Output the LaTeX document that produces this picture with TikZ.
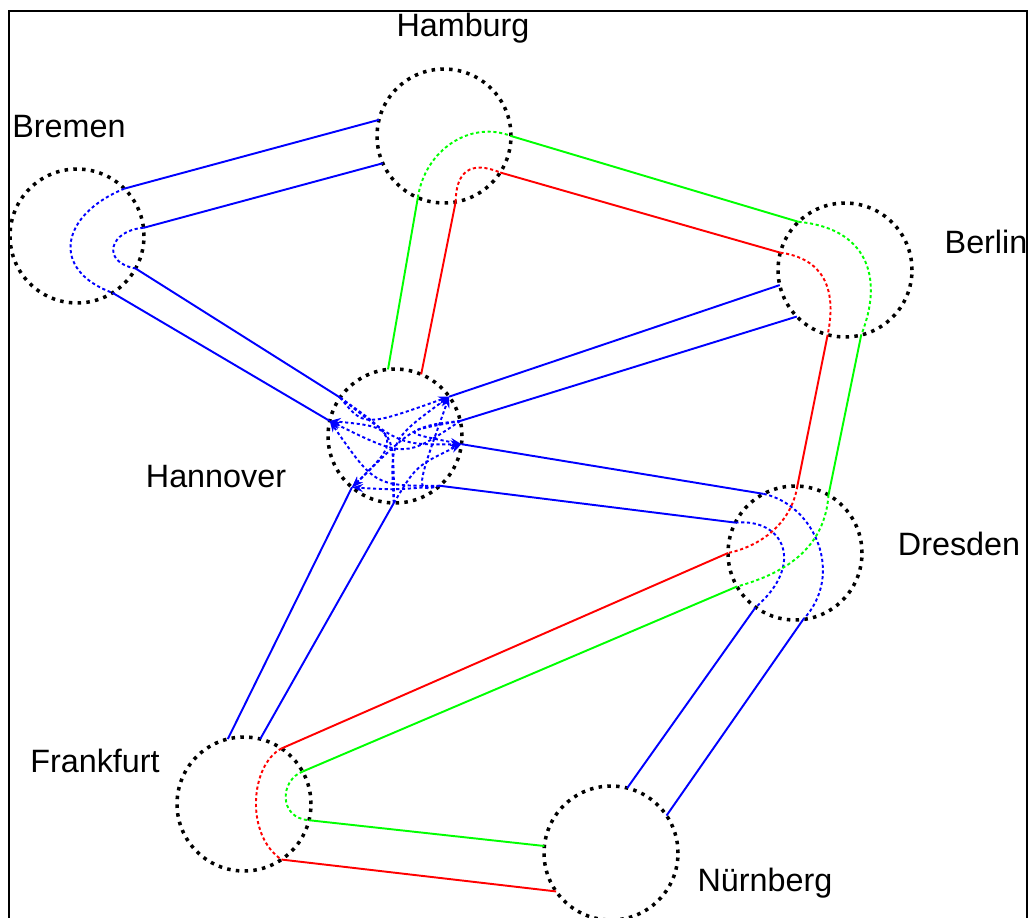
\documentclass[tikz,border=0pt]{standalone}
\usepackage{fontspec}
\setmainfont{Liberation Sans}
\usetikzlibrary{arrows.meta}

\begin{document}
\begin{tikzpicture}[
    x=0.02cm, y=-0.02cm,
    text=black,
    >={Stealth[length=2.2mm, width=1.6mm]},
    city/.style={circle, draw=black, line width=2pt, dash pattern=on 2pt off 3pt,
                 minimum size=2.68cm, inner sep=0pt, outer sep=0pt},
    citylabel/.style={anchor=base, font=\fontsize{18.4}{22}\selectfont},
    lane/.style={line width=1.1pt},
    route/.style={line width=1.1pt, dash pattern=on 1.8pt off 1.5pt},
    hop/.style={route, ->}
]

% Colours of the three flows
\definecolor{flowblue}{RGB}{0,0,255}
\definecolor{flowred}{RGB}{255,0,0}
\definecolor{flowgreen}{RGB}{0,255,0}

\useasboundingbox (0,0) rectangle (1033,917);
\fill[white] (0,0) rectangle (1033,917);
\clip (0,0) rectangle (1033,917);

% Frame
\draw[line width=1.2pt] (9,11) rectangle (1027,940);

% ==================== CITIES ====================
\node[city] (hamburg)   at (444,136) {};
\node[city] (bremen)    at (77,236)  {};
\node[city] (berlin)    at (845,270) {};
\node[city] (hannover)  at (395,436) {};
\node[city] (dresden)   at (795,553) {};
\node[city] (frankfurt) at (244,804) {};
\node[city] (nuernberg) at (611,853) {};

% Labels
\node[citylabel] (hamburg-label)   at (463,36)  {Hamburg};
\node[citylabel] (bremen-label)    at (69,137)  {Bremen};
\node[citylabel] (berlin-label)    at (986,253) {Berlin};
\node[citylabel] (hannover-label)  at (216,487) {Hannover};
\node[citylabel] (dresden-label)   at (959,555) {Dresden};
\node[citylabel] (frankfurt-label) at (95,772)  {Frankfurt};
\node[citylabel] (nuernberg-label) at (765,891) {Nürnberg};

% ==================== BLUE LINKS ====================
\begin{scope}[flowblue]
    \draw[lane] (bremen.45.6)    -- (hamburg.166.8);
    \draw[lane] (bremen.7.8)     -- (hamburg.-156.2);
    \draw[lane] (bremen.-29.3)   -- (hannover.145.6);
    \draw[lane] (bremen.-58.5)   -- (hannover.167.8);
    \draw[lane] (berlin.193.4)   -- (hannover.36.9);
    \draw[lane] (berlin.224.4)   -- (hannover.13.2);
    \draw[lane] (hannover.-7.6)  -- (dresden.118.9);
    \draw[lane] (hannover.-48)   -- (dresden.153.1);
    \draw[lane] (hannover.-130)  -- (frankfurt.104.2);
    \draw[lane] (hannover.-91.7) -- (frankfurt.76.6);
    \draw[lane] (dresden.234.5)  -- (nuernberg.76.4);
    \draw[lane] (dresden.277)    -- (nuernberg.34.8);

    % turns inside Bremen
    \draw[route] (bremen.45.6) .. controls (60,215) and (50,270) .. (bremen.-58.5);
    \draw[route] (bremen.7.8) .. controls (110,230) and (100,262) .. (bremen.-29.3);

    % turns inside Dresden
    \draw[route] (dresden.118.9) .. controls (815,505) and (845,575) .. (dresden.277);
    \draw[route] (dresden.153.1) .. controls (785,518) and (805,565) .. (dresden.234.5);

    % switching inside Hannover
    \draw[hop] (hannover.145.6) .. controls (364,427) .. (hannover.36.9);
    \draw[hop] (hannover.145.6) .. controls (400,445) .. (hannover.-7.6);
    \draw[hop] (hannover.145.6) .. controls (400,440) .. (hannover.-130);
    \draw[hop] (hannover.13.2)  .. controls (405,458) .. (hannover.167.8);
    \draw[hop] (hannover.13.2)  .. controls (400,432) .. (hannover.-7.6);
    \draw[hop] (hannover.13.2)  .. controls (414,426) .. (hannover.-130);
    \draw[hop] (hannover.-48)   .. controls (375,486) .. (hannover.167.8);
    \draw[hop] (hannover.-48)   .. controls (415,492) .. (hannover.36.9);
    \draw[hop] (hannover.-48)   .. controls (396,490) .. (hannover.-130);
    \draw[hop] (hannover.-91.7) .. controls (394,427) .. (hannover.167.8);
    \draw[hop] (hannover.-91.7) .. controls (390,440) .. (hannover.36.9);
    \draw[hop] (hannover.-91.7) .. controls (416,466) .. (hannover.-7.6);
\end{scope}

% ==================== RED LINKS ====================
\begin{scope}[flowred]
    \draw[lane] (hamburg.-80.8)  -- (hannover.67);
    \draw[lane] (hamburg.-33.7)  -- (berlin.165.1);
    \draw[lane] (berlin.255.1)   -- (dresden.88.3);
    \draw[lane] (dresden.180)    -- (frankfurt.56.5);
    \draw[lane] (frankfurt.-56.6) -- (nuernberg.215.5);

    \draw[route] (hamburg.-80.8) .. controls (456,172) and (470,160) .. (hamburg.-33.7);
    \draw[route] (berlin.165.1) .. controls (820,258) and (838,285) .. (berlin.255.1);
    \draw[route] (dresden.88.3) .. controls (792,520) and (765,545) .. (dresden.180);
    \draw[route] (frankfurt.56.5) .. controls (250,765) and (245,835) .. (frankfurt.-56.6);
\end{scope}

% ==================== GREEN LINKS ====================
\begin{scope}[flowgreen]
    \draw[lane] (hamburg.-113.7) -- (hannover.96.8);
    \draw[lane] (hamburg.-0.9)   -- (berlin.134.4);
    \draw[lane] (berlin.284.9)   -- (dresden.60.4);
    \draw[lane] (dresden.210.4)  -- (frankfurt.29.7);
    \draw[lane] (frankfurt.-14)  -- (nuernberg.174.9);

    \draw[route] (hamburg.-113.7) .. controls (425,150) and (470,120) .. (hamburg.-0.9);
    \draw[route] (berlin.134.4) .. controls (865,228) and (885,275) .. (berlin.284.9);
    \draw[route] (dresden.60.4) .. controls (825,545) and (790,572) .. (dresden.210.4);
    \draw[route] (frankfurt.29.7) .. controls (280,780) and (278,818) .. (frankfurt.-14);
\end{scope}

\end{tikzpicture}
\end{document}
